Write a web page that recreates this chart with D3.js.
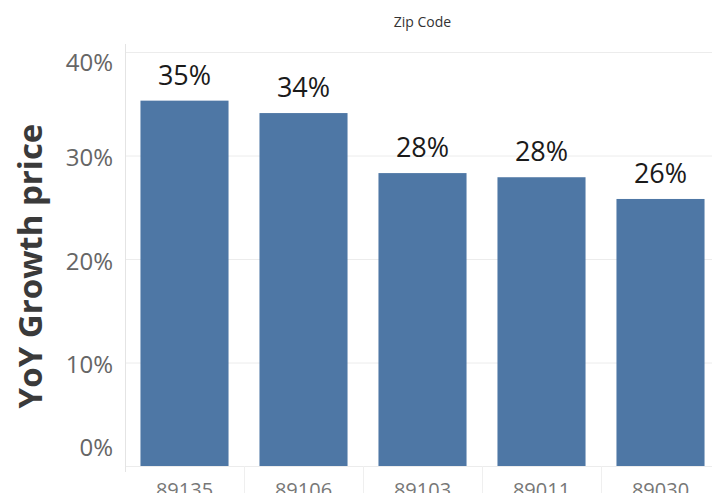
<!DOCTYPE html>
<html>
<head>
<meta charset="utf-8">
<script src="https://cdn.jsdelivr.net/npm/d3@7"></script>
<style>
  html, body { margin: 0; padding: 0; background: #fff; overflow: hidden; }
  svg { display: block; }
</style>
</head>
<body>
<svg id="chart" width="712" height="493"></svg>
<script>
// Year-over-year price growth by zip code
const zipCodes = ["89135", "89106", "89103", "89011", "89030"];
const growth = [0.353, 0.341, 0.283, 0.279, 0.258];
const yTicks = [0, 0.1, 0.2, 0.3, 0.4];

(function draw() {
  const svg = d3.select("#chart");
  const W = 712, H = 493;
  const paneLeft = 125, paneRight = 720, paneTop = 52, paneBottom = 466;
  const font = "'Open Sans', 'Noto Sans', sans-serif";

  const x = d3.scaleBand().domain(zipCodes).range([paneLeft, paneRight]).paddingInner(0.26).paddingOuter(0.13);
  const y = d3.scaleLinear().domain([0, 0.4]).range([paneBottom, paneTop]);
  const pct = d3.format(".0%");

  // header
  svg.append("text")
    .attr("x", (paneLeft + paneRight) / 2).attr("y", 27)
    .attr("text-anchor", "middle")
    .attr("font-family", font).attr("font-size", 14).attr("fill", "#333")
    .text("Zip Code");

  // gridlines
  svg.append("g").selectAll("line").data(yTicks).join("line")
    .attr("x1", paneLeft).attr("x2", W)
    .attr("y1", d => y(d) + 0.5).attr("y2", d => y(d) + 0.5)
    .attr("stroke", "#ececec").attr("stroke-width", 1);

  // pane left edge
  svg.append("line")
    .attr("x1", paneLeft + 0.5).attr("x2", paneLeft + 0.5)
    .attr("y1", paneTop - 8).attr("y2", paneBottom + 6)
    .attr("stroke", "#e4e4e4");

  // dividers between zip codes under the baseline
  const edges = zipCodes.slice(1).map(z => x(z) - x.step() * x.paddingInner() / 2);
  svg.append("g").selectAll("line").data(edges).join("line")
    .attr("x1", d => d + 0.5).attr("x2", d => d + 0.5)
    .attr("y1", paneBottom).attr("y2", H)
    .attr("stroke", "#efefef");

  // y axis labels (end labels are kept inside the pane)
  const yAxis = d3.axisLeft(y).tickValues(yTicks).tickFormat(pct).tickSize(0).tickPadding(12);
  const gy = svg.append("g").attr("transform", `translate(${paneLeft},0)`).call(yAxis);
  gy.select(".domain").remove();
  gy.selectAll("text")
    .attr("font-family", font).attr("font-size", 24).attr("fill", "#666")
    .attr("dy", d => d === 0.4 ? "0.78em" : d === 0 ? "-0.42em" : d === 0.2 ? "0.45em" : "0.4em");

  // y axis title
  svg.append("text")
    .attr("transform", `translate(42,266) rotate(-90)`)
    .attr("text-anchor", "middle")
    .attr("font-family", font).attr("font-size", 33).attr("font-weight", "bold").attr("fill", "#3a3a3a")
    .text("YoY Growth price");

  // bars
  svg.append("g").selectAll("rect").data(zipCodes).join("rect")
    .attr("x", d => x(d)).attr("width", x.bandwidth())
    .attr("y", (d, i) => y(growth[i]))
    .attr("height", (d, i) => y(0) - y(growth[i]))
    .attr("fill", "#4e77a5");

  // value labels
  svg.append("g").selectAll("text").data(zipCodes).join("text")
    .attr("x", d => x(d) + x.bandwidth() / 2)
    .attr("y", (d, i) => y(growth[i]) - 16)
    .attr("text-anchor", "middle")
    .attr("font-family", font).attr("font-size", 27).attr("fill", "#1a1a1a")
    .text((d, i) => pct(growth[i]));

  // x axis labels
  const xAxis = d3.axisBottom(x).tickSize(0).tickPadding(0);
  const gx = svg.append("g").attr("transform", `translate(0,${paneBottom})`).call(xAxis);
  gx.select(".domain").remove();
  gx.selectAll("text")
    .attr("font-family", font).attr("font-size", 20).attr("fill", "#777")
    .attr("dy", null).attr("y", 31);
})();
</script>
</body>
</html>
